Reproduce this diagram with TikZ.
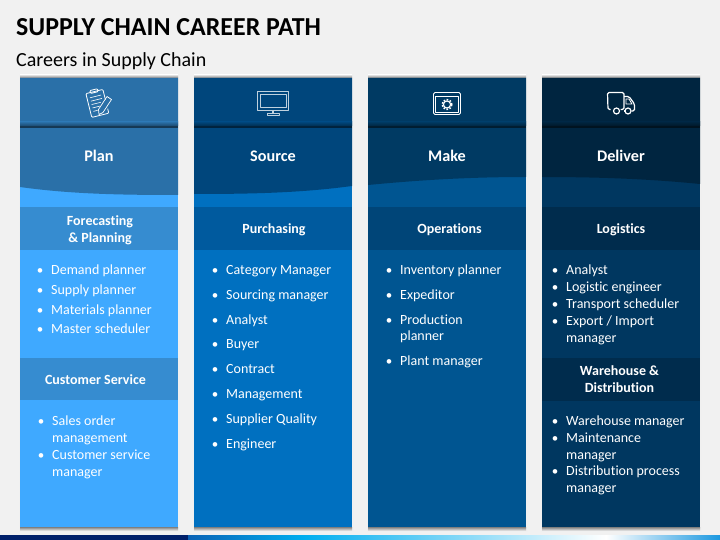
\documentclass[tikz,border=0pt]{standalone}
\usepackage{fontspec}
\setmainfont[Ligatures=NoCommon]{Carlito}
\usepackage{tikz}

\definecolor{fondo}{HTML}{F1F1F1}
\definecolor{planbody}{HTML}{3FA9FF}
\definecolor{planhead}{HTML}{2A70A8}
\definecolor{plansub}{HTML}{368CD0}
\definecolor{sourcebody}{HTML}{0070C0}
\definecolor{sourcehead}{HTML}{00467C}
\definecolor{sourcesub}{HTML}{005A9E}
\definecolor{makebody}{HTML}{005591}
\definecolor{makehead}{HTML}{003A63}
\definecolor{makesub}{HTML}{004578}
\definecolor{deliverbody}{HTML}{003760}
\definecolor{deliverhead}{HTML}{002540}
\definecolor{deliversub}{HTML}{002C4D}

\tikzset{
	title/.style={anchor=mid west, inner sep=0pt, font=\fontsize{25.9}{30}\selectfont\bfseries, text=black},
	subtitle/.style={anchor=mid west, inner sep=0pt, font=\fontsize{20}{24}\selectfont, text=black},
	headtext/.style={inner sep=0pt, font=\fontsize{16.2}{19}\selectfont\bfseries, text=white},
	subtext/.style={inner sep=0pt, align=center, font=\fontsize{14}{17}\selectfont\bfseries, text=white},
	itemcont/.style={anchor=mid west, inner sep=0pt, text height=8.5pt, text depth=2.5pt, font=\fontsize{14}{16}\selectfont, text=white},
	item/.style={itemcont, label={[text=white, inner sep=0pt, label distance=7.5pt, font=\fontsize{13}{16}\selectfont]left:•}},
	halo/.style={fill=black!6},
	edge shadow/.style={top color=black!12, bottom color=black!50},
	edge shadow low/.style={top color=black!50, bottom color=black!10},
	icon/.style={draw=white, line width=.8pt, line join=round}
}

\begin{document}
\begin{tikzpicture}[x=1pt, y=-1pt]
		\useasboundingbox (0,0) rectangle (720,540);
		\fill[fondo] (0,0) rectangle (720,540);
		%Titles
		\node[title] (maintitle) at (16,33) {SUPPLY CHAIN CAREER PATH};
		\node[subtitle] (careers) at (16,64) {Careers in Supply Chain};

		%Bottom bar
		\fill[fill={rgb,255:red,0;green,32;blue,106}] (0,535) rectangle (188,540);
		\shade[left color={rgb,255:red,10;green,98;blue,181}, right color={rgb,255:red,0;green,174;blue,239}] (188,535) rectangle (303,540);
		\shade[left color={rgb,255:red,0;green,174;blue,239}, right color=white] (303,535) rectangle (606,540);
		\shade[left color=white, right color={rgb,255:red,27;green,152;blue,224}] (606,535) rectangle (720,540);

		%Column shadows
		\fill[halo] (18.5,74) rectangle (179.5,531.5);
		\fill[halo] (192.5,74) rectangle (353.5,531.5);
		\fill[halo] (366.5,74) rectangle (527.5,531.5);
		\fill[halo] (540.5,74) rectangle (701.5,531.5);
		\shade[edge shadow] (20,75) rectangle (178,78);
		\shade[edge shadow] (194,75) rectangle (352,78);
		\shade[edge shadow] (368,75) rectangle (526,78);
		\shade[edge shadow] (542,75) rectangle (700,78);
		\shade[edge shadow low] (20,527) rectangle (178,530.5);
		\shade[edge shadow low] (194,527) rectangle (352,530.5);
		\shade[edge shadow low] (368,527) rectangle (526,530.5);
		\shade[edge shadow low] (542,527) rectangle (700,530.5);

		%Plan
		\fill[planbody] (20,78) rectangle (178,527);
		\fill[planhead] (20,78) -- (178,78) -- (178,195) .. controls (120,195) and (70,194) .. (20,187) -- cycle;
		\fill[plansub] (20,207) rectangle (178,250);
		\fill[plansub] (20,358) rectangle (178,400);
		\shade[top color=planhead, bottom color=black!35!planhead] (20,122) rectangle (178,126);
		\fill[black!50!planhead] (20,126) rectangle (178,128);
		%Source
		\fill[sourcebody] (194,78) rectangle (352,527);
		\fill[sourcehead] (194,78) -- (352,78) -- (352,186) .. controls (300,193) and (250,194) .. (194,194) -- cycle;
		\fill[sourcesub] (194,207) rectangle (352,250);
		\shade[top color=sourcehead, bottom color=black!35!sourcehead] (194,122) rectangle (352,126);
		\fill[black!50!sourcehead] (194,126) rectangle (352,128);
		%Make
		\fill[makebody] (368,78) rectangle (526,527);
		\fill[makehead] (368,78) -- (526,78) -- (526,177) .. controls (470,177) and (420,180) .. (368,185) -- cycle;
		\fill[makesub] (368,207) rectangle (526,250);
		\shade[top color=makehead, bottom color=black!35!makehead] (368,122) rectangle (526,126);
		\fill[black!50!makehead] (368,126) rectangle (526,128);
		%Deliver
		\fill[deliverbody] (542,78) rectangle (700,527);
		\fill[deliverhead] (542,78) -- (700,78) -- (700,184) .. controls (650,179) and (600,177) .. (542,177) -- cycle;
		\fill[deliversub] (542,207) rectangle (700,250);
		\fill[deliversub] (542,358) rectangle (700,401);
		\shade[top color=deliverhead, bottom color=black!35!deliverhead] (542,122) rectangle (700,126);
		\fill[black!50!deliverhead] (542,126) rectangle (700,128);

		%Icon clipboard
		\begin{scope}[shift={(98,103)}, rotate=14]
			\draw[icon, rounded corners=1pt] (-9.5,-12) rectangle (8,12.5);
			\draw[icon, rounded corners=1pt] (-5,-14) rectangle (3,-11);
			\draw[icon, line width=.6pt] (-6.5,-7)--(5,-7) (-6.5,-3.5)--(5,-3.5) (-6.5,0)--(3,0) (-6.5,3.5)--(1,3.5) (-6.5,7)--(0,7);
		\end{scope}
		\fill[planhead] (104,99) -- (112,103) -- (104,113) -- (97,112) -- cycle;
		\draw[icon, line width=.7pt] (107,96.5) -- (111.5,99.5) -- (103,112.5) -- (99,114.5) -- (98.5,109.5) -- cycle;

		%Icon monitor
		\draw[icon, draw=white!75!sourcehead] (257.5,91.5) rectangle (288.5,110);
		\draw[icon, draw=white!75!sourcehead] (260,94) rectangle (286,107);
		\fill[white!75!sourcehead] (272,110) rectangle (274,113);
		\draw[icon, draw=white!75!sourcehead] (267,113) rectangle (279,115.5);

		%Icon window
		\draw[icon, rounded corners=1.5pt] (433.5,92.5) rectangle (460.5,114.5);
		\draw[icon, line width=.5pt] (435.5,96.5) -- (458.5,96.5) -- (458.5,112.5) -- (435.5,112.5) -- cycle;
		\draw[icon, line width=1.2pt] (447,104.5) circle (3.6pt);
		\draw[icon, line width=1.4pt, dash pattern=on 1.6pt off 1.6pt] (447,104.5) circle (5pt);

		%Icon truck
		\draw[icon, line width=1.2pt, rounded corners=1.5pt] (610.5,109.5) -- (608,109.5) -- (607.5,92.5) -- (624,92.5) -- (624,109.5) -- (620.5,109.5);
		\draw[icon, line width=1.2pt, rounded corners=1.5pt] (624,96.5) -- (629,96.5) -- (634.5,104) -- (634.5,111) -- (631.5,111);
		\draw[icon, line width=1.2pt] (624,111) -- (624.5,111);
		\draw[icon, line width=.8pt] (626,99) -- (629,99) -- (632,104) -- (626,104) -- cycle;
		\draw[icon, line width=1.2pt] (616.5,111) circle (3pt);
		\draw[icon, line width=1.2pt] (628,111) circle (3pt);

		%Column heads
		\node[headtext] (plan) at (99,155.5) {Plan};
		\node[headtext] (source) at (273,156.5) {Source};
		\node[headtext] (make) at (447,155.5) {Make};
		\node[headtext] (deliver) at (621,155.5) {Deliver};

		%Plan texts
		\node[subtext] (forecasting) at (100,230.5) {Forecasting\\\& Planning};
		\node[item] (demand) at (51,272) {Demand planner};
		\node[item] (supply) at (51,292) {Supply planner};
		\node[item] (materials) at (51,312) {Materials planner};
		\node[item] (master) at (51,331) {Master scheduler};
		\node[subtext] (service) at (95.5,380) {Customer Service};
		\node[item] (salesorder) at (52,423.5) {Sales order};
		\node[itemcont] (salesorderb) at (52,440.5) {management};
		\node[item] (customer) at (52,457.5) {Customer service};
		\node[itemcont] (customerb) at (52,474) {manager};

		%Source texts
		\node[subtext] (purchasing) at (274,230) {Purchasing};
		\node[item] (category) at (226,272) {Category Manager};
		\node[item] (sourcing) at (226,297) {Sourcing manager};
		\node[item] (analystb) at (226,322) {Analyst};
		\node[item] (buyer) at (226,346.5) {Buyer};
		\node[item] (contract) at (226,371.5) {Contract};
		\node[item] (management) at (226,396.5) {Management};
		\node[item] (quality) at (226,421.5) {Supplier Quality};
		\node[item] (engineer) at (226,446.5) {Engineer};

		%Make texts
		\node[subtext] (operations) at (449.5,230) {Operations};
		\node[item] (inventory) at (400,272) {Inventory planner};
		\node[item] (expeditor) at (400,297) {Expeditor};
		\node[item] (production) at (400,322) {Production};
		\node[itemcont] (productionb) at (400,338.5) {planner};
		\node[item] (plant) at (400,363.5) {Plant manager};

		%Deliver texts
		\node[subtext] (logistics) at (621,230) {Logistics};
		\node[item] (analyst) at (566,272) {Analyst};
		\node[item] (logistic) at (566,289) {Logistic engineer};
		\node[item] (transport) at (566,306) {Transport scheduler};
		\node[item] (export) at (566,323) {Export / Import};
		\node[itemcont] (exportb) at (566,340) {manager};
		\node[subtext] (warehouse) at (619.5,379) {Warehouse \&\\Distribution};
		\node[item] (whmanager) at (566,423.5) {Warehouse manager};
		\node[item] (maintenance) at (566,440.5) {Maintenance};
		\node[itemcont] (maintenanceb) at (566,457.5) {manager};
		\node[item] (distribution) at (566,473.5) {Distribution process};
		\node[itemcont] (distributionb) at (566,490.5) {manager};
\end{tikzpicture}
\end{document}
